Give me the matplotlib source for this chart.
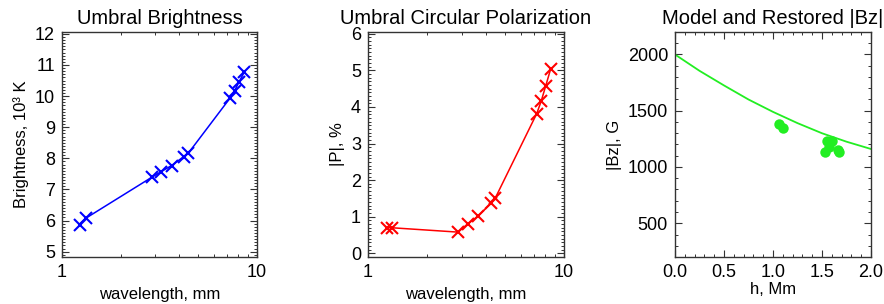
import matplotlib
matplotlib.use("Agg")
import matplotlib.pyplot as plt
from matplotlib.ticker import MultipleLocator, FixedLocator, NullFormatter

plt.rcParams['font.family'] = ['Liberation Sans', 'DejaVu Sans']
plt.rcParams['font.size'] = 12

# Panel 1: Umbral Brightness
wl_b = [1.23, 1.32, 2.90, 3.22, 3.65, 4.20, 4.45, 7.26, 7.68, 8.10, 8.60]
bright = [5.87, 6.07, 7.40, 7.57, 7.77, 8.05, 8.17, 9.93, 10.18, 10.46, 10.77]

# Panel 2: Umbral Circular Polarization
wl_p = [1.25, 1.32, 2.88, 3.22, 3.65, 4.25, 4.45, 7.26, 7.65, 8.07, 8.55]
pol = [0.70, 0.70, 0.58, 0.80, 1.02, 1.37, 1.50, 3.82, 4.16, 4.58, 5.04]

# Panel 3: Model and Restored |Bz|
h_model = [0.0, 0.25, 0.5, 0.75, 1.0, 1.25, 1.5, 1.75, 2.0]
b_model = [2000, 1855, 1725, 1600, 1490, 1390, 1300, 1225, 1160]
h_rest = [1.06, 1.10, 1.55, 1.60, 1.57, 1.53, 1.66, 1.67]
b_rest = [1385, 1345, 1228, 1230, 1180, 1133, 1155, 1130]

W, H = 884, 304
fig = plt.figure(figsize=(W / 100, H / 100), dpi=100)

def box(l, r, t=32, b=257):
    return [l / W, (H - b) / H, (r - l) / W, (b - t) / H]

ax1 = fig.add_axes(box(62, 257))
ax2 = fig.add_axes(box(368, 564))
ax3 = fig.add_axes(box(675, 871))

TITLE_FS = 14.5
TICK_FS = 13
LABEL_FS = 12

def style(ax):
    for s in ax.spines.values():
        s.set_linewidth(1.0)
        s.set_color('#333333')
    ax.tick_params(which='both', direction='in', top=True, right=True, color='#333333')
    ax.tick_params(which='major', length=5, width=0.8, pad=5, labelsize=TICK_FS)
    ax.tick_params(which='minor', length=2.5, width=0.7)

# Panel 1
ax1.plot(wl_b, bright, color='#0000ff', lw=1.1, marker='x', ms=8, mew=1.5)
ax1.set_xscale('log')
ax1.set_xlim(1, 10)
ax1.set_ylim(4.83, 12.06)
ax1.xaxis.set_major_locator(FixedLocator([1, 10]))
ax1.set_xticklabels(['1', '10'])
ax1.xaxis.set_minor_locator(FixedLocator(list(range(2, 10))))
ax1.xaxis.set_minor_formatter(NullFormatter())
ax1.yaxis.set_major_locator(MultipleLocator(1))
ax1.yaxis.set_minor_locator(MultipleLocator(0.1))
ax1.set_title('Umbral Brightness', fontsize=TITLE_FS, pad=6)
ax1.set_xlabel('wavelength, mm', fontsize=LABEL_FS)
ax1.set_ylabel('Brightness, 10³ K', fontsize=LABEL_FS)
style(ax1)

# Panel 2
ax2.plot(wl_p, pol, color='#ff0000', lw=1.1, marker='x', ms=8, mew=1.5)
ax2.set_xscale('log')
ax2.set_xlim(1, 10)
ax2.set_ylim(-0.1, 6.05)
ax2.xaxis.set_major_locator(FixedLocator([1, 10]))
ax2.set_xticklabels(['1', '10'])
ax2.xaxis.set_minor_locator(FixedLocator(list(range(2, 10))))
ax2.xaxis.set_minor_formatter(NullFormatter())
ax2.yaxis.set_major_locator(MultipleLocator(1))
ax2.yaxis.set_minor_locator(MultipleLocator(0.1))
ax2.set_title('Umbral Circular Polarization', fontsize=TITLE_FS, pad=6)
ax2.set_xlabel('wavelength, mm', fontsize=LABEL_FS)
ax2.set_ylabel('|P|, %', fontsize=LABEL_FS)
style(ax2)

# Panel 3
ax3.plot(h_model, b_model, color='#22ee22', lw=1.3)
ax3.plot(h_rest, b_rest, linestyle='none', marker='o', ms=7.5, color='#22ee22', mec='none')
ax3.set_xlim(0, 2)
ax3.set_ylim(200, 2200)
ax3.xaxis.set_major_locator(MultipleLocator(0.5))
ax3.xaxis.set_minor_locator(MultipleLocator(0.1))
ax3.yaxis.set_major_locator(FixedLocator([500, 1000, 1500, 2000]))
ax3.yaxis.set_minor_locator(MultipleLocator(100))
ax3.xaxis.set_major_formatter(matplotlib.ticker.FormatStrFormatter('%.1f'))
ax3.set_title('Model and Restored |Bz|', fontsize=TITLE_FS, pad=6)
ax3.set_xlabel('h, Mm', labelpad=1, fontsize=LABEL_FS)
ax3.set_ylabel('|Bz|, G', fontsize=LABEL_FS)
style(ax3)

fig.savefig('out.png', dpi=100)
